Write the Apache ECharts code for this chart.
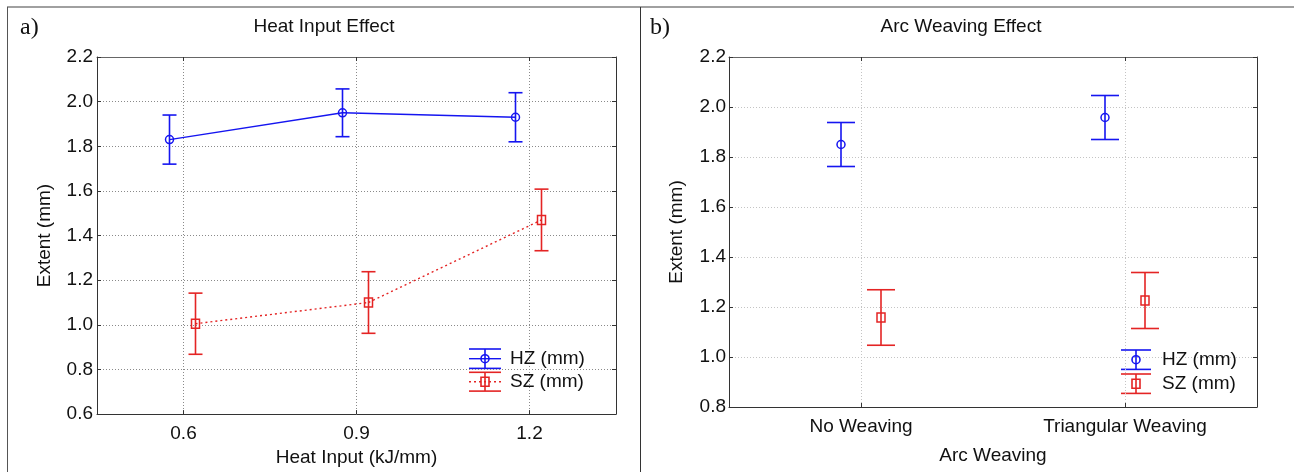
<!DOCTYPE html>
<html><head><meta charset="utf-8">
<script src="https://cdn.jsdelivr.net/npm/echarts@6/dist/echarts.min.js"></script>
<style>html,body{margin:0;padding:0;background:#fff}#c{width:1294px;height:472px}</style>
</head><body><div id="c"></div>
<script>
// ---- data ----
const heatInput = ['0.6', '0.9', '1.2'];
const hzHeatMean = [1.83, 1.95, 1.93];
const hzHeatErr = [0.11, 0.107, 0.11];
const szHeatMean = [1.005, 1.10, 1.47];
const szHeatErr = [0.137, 0.138, 0.138];

const weaving = ['No Weaving', 'Triangular Weaving'];
const hzWeaveMean = [1.85, 1.958];
const hzWeaveErr = [0.088, 0.088];
const szWeaveMean = [1.158, 1.226];
const szWeaveErr = [0.111, 0.112];

const heatYTicks = [0.6, 0.8, 1.0, 1.2, 1.4, 1.6, 1.8, 2.0, 2.2];
const weaveYTicks = [0.8, 1.0, 1.2, 1.4, 1.6, 1.8, 2.0, 2.2];

const seriesNames = ['HZ (mm)', 'SZ (mm)'];

// ---- styling ----
const BLUE = '#1515f0';
const RED = '#e42424';
const FONT = "'Liberation Sans', Arial, sans-serif";
const FS = 19;

function padCats(c) {
  const out = ['_0'];
  c.forEach((v, i) => { out.push(v); out.push('_' + (2 * i + 2)); });
  return out;
}
const odd = (idx) => idx % 2 === 1;

function errSeries(name, gi, means, errs, o) {
  return {
    type: 'custom', name: name, xAxisIndex: gi * 2, yAxisIndex: gi * 2,
    data: means.map((m, i) => [2 * i + 1, m, errs[i]]),
    encode: { x: 0, y: 1 },
    clip: false, silent: true, z: 5,
    renderItem: function (params, api) {
      const i = params.dataIndex;
      const cx = api.value(0), m = api.value(1), e = api.value(2);
      const p = api.coord([cx, m]);
      const pt = api.coord([cx, m + e]);
      const pb = api.coord([cx, m - e]);
      const x = p[0] + o.dodge;
      const ch = [];
      const st = { stroke: o.color, lineWidth: 1.6, fill: null };
      if (o.line && i > 0) {
        const q = api.coord([2 * (i - 1) + 1, means[i - 1]]);
        ch.push({ type: 'line', shape: { x1: q[0] + o.dodge, y1: q[1], x2: x, y2: p[1] },
          style: { stroke: o.color, lineWidth: 1.4, lineDash: o.dash || null } });
      }
      ch.push({ type: 'line', shape: { x1: x, y1: pt[1], x2: x, y2: pb[1] }, style: st });
      ch.push({ type: 'line', shape: { x1: x - o.cap, y1: pt[1], x2: x + o.cap, y2: pt[1] }, style: st });
      ch.push({ type: 'line', shape: { x1: x - o.cap, y1: pb[1], x2: x + o.cap, y2: pb[1] }, style: st });
      if (o.marker === 'circle') {
        ch.push({ type: 'circle', shape: { cx: x, cy: p[1], r: 4 }, style: { stroke: o.color, lineWidth: 1.5, fill: null } });
      } else {
        ch.push({ type: 'rect', shape: { x: x - 4, y: p[1] - 4.5, width: 8, height: 9 }, style: { stroke: o.color, lineWidth: 1.5, fill: null } });
      }
      return { type: 'group', children: ch };
    }
  };
}

function legendGlyph(cx, cy, half, hh, color, marker, line, dash) {
  const st = { stroke: color, lineWidth: 1.6, fill: null };
  const ch = [];
  if (line) ch.push({ type: 'line', shape: { x1: cx - half, y1: cy, x2: cx + half, y2: cy }, style: { stroke: color, lineWidth: 1.4, lineDash: dash || null } });
  ch.push({ type: 'line', shape: { x1: cx, y1: cy - hh, x2: cx, y2: cy + hh }, style: st });
  ch.push({ type: 'line', shape: { x1: cx - half, y1: cy - hh, x2: cx + half, y2: cy - hh }, style: st });
  ch.push({ type: 'line', shape: { x1: cx - half, y1: cy + hh, x2: cx + half, y2: cy + hh }, style: st });
  if (marker === 'circle') ch.push({ type: 'circle', shape: { cx: cx, cy: cy, r: 4 }, style: st });
  else ch.push({ type: 'rect', shape: { x: cx - 4, y: cy - 4.5, width: 8, height: 9 }, style: st });
  return { type: 'group', children: ch, z: 20 };
}
function legendText(x, y, t) {
  return { type: 'text', x: x, y: y, z: 20, style: { text: t, font: FS + 'px ' + FONT, fill: '#111', align: 'left', verticalAlign: 'middle' } };
}

function xAxes(cats, gi, nameTxt, nameGap, gridColor) {
  return [{
    type: 'category', gridIndex: gi, data: padCats(cats), boundaryGap: false,
    name: nameTxt, nameLocation: 'middle', nameGap: nameGap,
    nameTextStyle: { fontFamily: FONT, fontSize: FS, color: '#111' },
    axisLine: { show: true, lineStyle: { color: '#333', width: 1 } },
    axisTick: { show: true, inside: true, length: 4, interval: (i) => odd(i), lineStyle: { color: '#333' } },
    axisLabel: { interval: (i) => odd(i), fontFamily: FONT, fontSize: FS, color: '#111', margin: 10 },
    splitLine: { show: true, interval: (i) => odd(i), lineStyle: { color: gridColor, type: [1, 2], width: 1 } }
  }, {
    type: 'category', gridIndex: gi, position: 'top', data: padCats(cats), boundaryGap: false,
    axisLine: { show: true, lineStyle: { color: '#666', width: 1 } },
    axisTick: { show: true, inside: true, length: 4, interval: (i) => odd(i), lineStyle: { color: '#333' } },
    axisLabel: { show: false }, splitLine: { show: false }
  }];
}
function yAxes(ticks, gi, gridColor, margin) {
  const base = { type: 'value', gridIndex: gi, min: ticks[0], max: ticks[ticks.length - 1], interval: Math.round((ticks[1] - ticks[0]) * 100) / 100 };
  return [Object.assign({}, base, {
    name: 'Extent (mm)', nameLocation: 'middle', nameGap: 43, nameRotate: 90,
    nameTextStyle: { fontFamily: FONT, fontSize: FS, color: '#111' },
    axisLine: { show: true, lineStyle: { color: '#333', width: 1 } },
    axisTick: { show: true, inside: true, length: 4, lineStyle: { color: '#333' } },
    axisLabel: { fontFamily: FONT, fontSize: FS, color: '#111', margin: margin, formatter: (v) => v.toFixed(1) },
    splitLine: { show: true, lineStyle: { color: gridColor, type: [1, 2], width: 1 } }
  }), Object.assign({}, base, {
    position: 'right',
    axisLine: { show: true, lineStyle: { color: '#333', width: 1 } },
    axisTick: { show: true, inside: true, length: 4, lineStyle: { color: '#333' } },
    axisLabel: { show: false }, splitLine: { show: false }
  })];
}

const chart = echarts.init(document.getElementById('c'), null, { renderer: 'canvas' });
const option = {
  backgroundColor: '#fff',
  animation: false,
  grid: [
    { left: 97, top: 57, width: 519, height: 360 },
    { left: 729, top: 57, width: 528, height: 350 }
  ],
  xAxis: [].concat(xAxes(heatInput, 0, 'Heat Input (kJ/mm)', 30, '#8a8a8a'), xAxes(weaving, 1, 'Arc Weaving', 39, '#c4c4c4')),
  yAxis: [].concat(yAxes(heatYTicks, 0, '#8a8a8a', 4), yAxes(weaveYTicks, 1, '#c4c4c4', 3)),
  series: [
    errSeries(seriesNames[0], 0, hzHeatMean, hzHeatErr, { color: BLUE, dodge: -14, cap: 7, marker: 'circle', line: true }),
    errSeries(seriesNames[1], 0, szHeatMean, szHeatErr, { color: RED, dodge: 12, cap: 7, marker: 'rect', line: true, dash: [2, 3] }),
    errSeries(seriesNames[0], 1, hzWeaveMean, hzWeaveErr, { color: BLUE, dodge: -20, cap: 14, marker: 'circle', line: false }),
    errSeries(seriesNames[1], 1, szWeaveMean, szWeaveErr, { color: RED, dodge: 20, cap: 14, marker: 'rect', line: false })
  ],
  graphic: [
    // outer panel frames
    { type: 'line', shape: { x1: 7, y1: 7, x2: 1294, y2: 7 }, style: { stroke: '#a0a0a0', lineWidth: 2 } },
    { type: 'line', shape: { x1: 7.5, y1: 7, x2: 7.5, y2: 472 }, style: { stroke: '#555', lineWidth: 1 } },
    { type: 'line', shape: { x1: 640.5, y1: 7, x2: 640.5, y2: 472 }, style: { stroke: '#333', lineWidth: 1 } },
    // titles
    { type: 'text', x: 324, y: 27, style: { text: 'Heat Input Effect', font: FS + 'px ' + FONT, fill: '#111', align: 'center', verticalAlign: 'middle' } },
    { type: 'text', x: 961, y: 27, style: { text: 'Arc Weaving Effect', font: FS + 'px ' + FONT, fill: '#111', align: 'center', verticalAlign: 'middle' } },
    { type: 'text', x: 20, y: 28, style: { text: 'a)', font: "24px 'Liberation Serif', 'Times New Roman', serif", fill: '#111', align: 'left', verticalAlign: 'middle' } },
    { type: 'text', x: 650, y: 28, style: { text: 'b)', font: "24px 'Liberation Serif', 'Times New Roman', serif", fill: '#111', align: 'left', verticalAlign: 'middle' } },
    // legends
    legendGlyph(485, 358.7, 16, 9.7, BLUE, 'circle', true),
    legendGlyph(485, 381.7, 16, 9.4, RED, 'rect', true, [2, 3]),
    legendText(510, 359, seriesNames[0]),
    legendText(510, 382, seriesNames[1]),
    legendGlyph(1136, 359.7, 15, 9.7, BLUE, 'circle', false),
    legendGlyph(1136, 383.7, 15, 9.7, RED, 'rect', false),
    legendText(1162, 360, seriesNames[0]),
    legendText(1162, 384, seriesNames[1])
  ]
};
chart.setOption(option);
</script>
</body></html>
